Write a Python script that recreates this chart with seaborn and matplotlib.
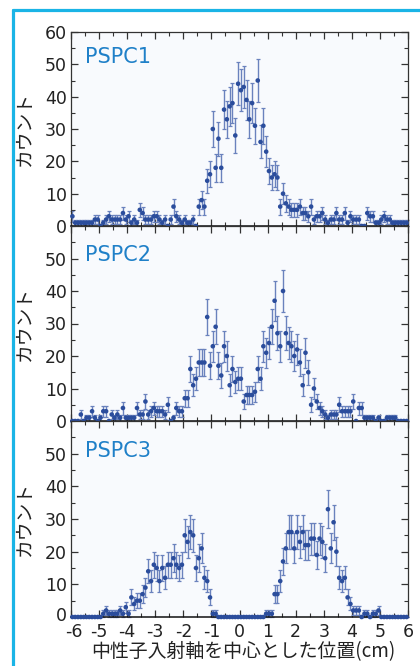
import numpy as np
import pandas as pd
import matplotlib
matplotlib.use("Agg")
import matplotlib.pyplot as plt
import seaborn as sns
from matplotlib.ticker import MultipleLocator
from matplotlib.lines import Line2D
from matplotlib.transforms import ScaledTranslation

# ---- data (bin centres in cm, 0.1 cm bins) ----
position_cm = np.round(-5.95 + 0.1 * np.arange(120), 2)

pspc1_counts = [
    3, 1, 1, 1, 1, 1, 1, 1, 2, 2, 0, 1, 2, 3, 2, 2, 2, 2, 4, 2,
    3, 1, 2, 1, 5, 4, 2, 2, 2, 3, 3, 2, 1, 2, 0, 2, 6, 3, 2, 1,
    2, 1, 1, 2, 0, 6, 8, 6, 14, 16, 30, 18, 27, 18, 36, 33, 37, 38, 28, 44,
    42, 43, 39, 33, 38, 31, 45, 26, 31, 23, 17, 15, 16, 15, 6, 10, 7, 6, 5, 5,
    5, 6, 4, 4, 3, 6, 2, 3, 3, 4, 2, 1, 2, 2, 4, 2, 2, 4, 1, 3,
    2, 2, 2, 0, 0, 4, 3, 3, 1, 1, 2, 3, 2, 2, 1, 1, 1, 1, 1, 1,
]
pspc2_counts = [
    0, 0, 0, 2, 0, 1, 1, 3, 1, 0, 1, 3, 3, 0, 2, 1, 2, 1, 4, 1,
    1, 1, 1, 4, 2, 2, 6, 2, 3, 4, 3, 3, 3, 2, 5, 0, 1, 4, 3, 3,
    7, 7, 16, 11, 13, 18, 18, 18, 32, 17, 23, 29, 17, 14, 23, 20, 11, 16, 12, 13,
    13, 6, 8, 8, 8, 9, 16, 13, 23, 21, 24, 29, 37, 27, 23, 40, 27, 24, 23, 20,
    22, 18, 11, 21, 15, 5, 10, 6, 4, 3, 2, 1, 2, 2, 2, 5, 3, 3, 3, 3,
    6, 0, 4, 4, 1, 1, 1, 1, 0, 1, 0, 0, 1, 1, 1, 1, 0, 0, 0, 0,
]
pspc3_counts = [
    0, 0, 0, 0, 0, 0, 0, 0, 0, 0, 0, 1, 2, 1, 1, 1, 1, 2, 1, 3,
    1, 6, 4, 5, 5, 7, 9, 14, 11, 16, 15, 11, 15, 12, 16, 16, 18, 16, 15, 16,
    25, 23, 26, 25, 15, 18, 21, 12, 11, 6, 1, 1, 0, 0, 0, 0, 0, 0, 0, 0,
    0, 0, 0, 0, 0, 0, 0, 0, 0, 1, 1, 1, 7, 7, 11, 17, 21, 26, 26, 21,
    26, 23, 26, 22, 22, 24, 24, 19, 24, 23, 18, 33, 21, 29, 20, 12, 11, 12, 6, 4,
    2, 2, 2, 0, 1, 1, 0, 1, 1, 2, 0, 0, 0, 0, 0, 0, 0, 0, 0, 0,
]
panel_names = ["PSPC1", "PSPC2", "PSPC3"]
x_tick_values = list(range(-6, 7))
x_tick_labels = [str(v) for v in x_tick_values]
y_label = "カウント"
x_label = "中性子入射軸を中心とした位置(cm)"

# ---- style ----
sns.set_theme(style="ticks")
plt.rcParams["font.family"] = ["Noto Sans CJK JP", "DejaVu Sans"]

W_PX, H_PX = 420, 666
fig = plt.figure(figsize=(W_PX / 100, H_PX / 100), dpi=100)
fig.patch.set_facecolor("white")

marker_color = "#2b4d9c"
err_color = "#6a82bd"
label_blue = "#1f80c8"
ink = "#222222"

left_px, right_px = 71, 408
panel_px = [(32, 226), (226, 421), (421, 617)]
label_y = [0.871, 0.851, 0.846]

for i, (name, counts) in enumerate(zip(panel_names, [pspc1_counts, pspc2_counts, pspc3_counts])):
    top, bot = panel_px[i]
    ax = fig.add_axes([left_px / W_PX, 1 - bot / H_PX,
                       (right_px - left_px) / W_PX, (bot - top) / H_PX])
    ax.set_facecolor("#f8fafd")
    df = pd.DataFrame({"x": position_cm, "count": np.array(counts, dtype=float)})
    df["err"] = np.sqrt(df["count"])
    ax.errorbar(df["x"], df["count"], yerr=df["err"], fmt="none",
                ecolor=err_color, elinewidth=1.0, capsize=1.6, capthick=0.9,
                zorder=2, clip_on=False)
    sns.scatterplot(data=df, x="x", y="count", ax=ax, color=marker_color,
                    s=11, edgecolor="none", linewidth=0, zorder=3, clip_on=False,
                    legend=False)
    ax.set_xlim(-6, 6)
    ax.set_ylim(0, 60)
    ax.set_xlabel("")
    ax.set_ylabel(y_label, fontsize=13.5, color=ink)
    ax.yaxis.set_label_coords(-0.107, 0.5)

    ax.xaxis.set_major_locator(MultipleLocator(1))
    ax.xaxis.set_minor_locator(MultipleLocator(0.5))
    ax.yaxis.set_minor_locator(MultipleLocator(5))
    if i == 0:
        ax.set_yticks(range(0, 61, 10))
        ax.set_yticklabels([str(v) for v in range(0, 61, 10)])
    else:
        ax.set_yticks(range(0, 51, 10))
        ax.set_yticklabels([str(v) for v in range(0, 51, 10)])
    ax.set_xticks(x_tick_values)
    if i == 2:
        ax.set_xticklabels(x_tick_labels)
    else:
        ax.set_xticklabels([])

    ax.tick_params(axis="both", which="major", direction="in", length=5,
                   width=0.9, color="#333333", top=True, right=True,
                   labelsize=12.5, labelcolor=ink, pad=3,
                   labelfontfamily="DejaVu Sans")
    ax.tick_params(axis="both", which="minor", direction="in", length=2.6,
                   width=0.8, color="#333333", top=True, right=True)
    ax.tick_params(axis="x", which="major", labelbottom=(i == 2), pad=4.5)
    for s in ax.spines.values():
        s.set_color("#333333")
        s.set_linewidth(0.9)
    ax.spines["bottom"].set_linewidth(1.1)
    ax.spines["bottom"].set_color("#111111")

    if i == 2:
        # nudge the corner labels apart so "0" and "-6" do not collide
        y0 = ax.get_yticklabels()[0]
        y0.set_transform(y0.get_transform() + ScaledTranslation(0, 3 / 100, fig.dpi_scale_trans))
        xm6 = ax.get_xticklabels()[0]
        xm6.set_transform(xm6.get_transform() + ScaledTranslation(2.5 / 100, 0, fig.dpi_scale_trans))

    ax.text(0.042, label_y[i], name, transform=ax.transAxes, color=label_blue,
            fontsize=15, ha="left", va="center", family=["DejaVu Sans"])

fig.text(((89 + 397) / 2) / W_PX, 1 - 652 / H_PX, x_label, ha="center",
         va="center", fontsize=13.6, color=ink)

# cyan frame (left and top edges visible in the reference)
cyan = "#1ab4e6"
fig.add_artist(Line2D([13.5 / W_PX, 13.5 / W_PX], [0, 1 - 9.5 / H_PX],
                      transform=fig.transFigure, color=cyan, lw=2.3))
fig.add_artist(Line2D([13.5 / W_PX, 1.0], [1 - 9.5 / H_PX, 1 - 9.5 / H_PX],
                      transform=fig.transFigure, color=cyan, lw=2.3))

fig.savefig("out.png", dpi=100, facecolor="white")
